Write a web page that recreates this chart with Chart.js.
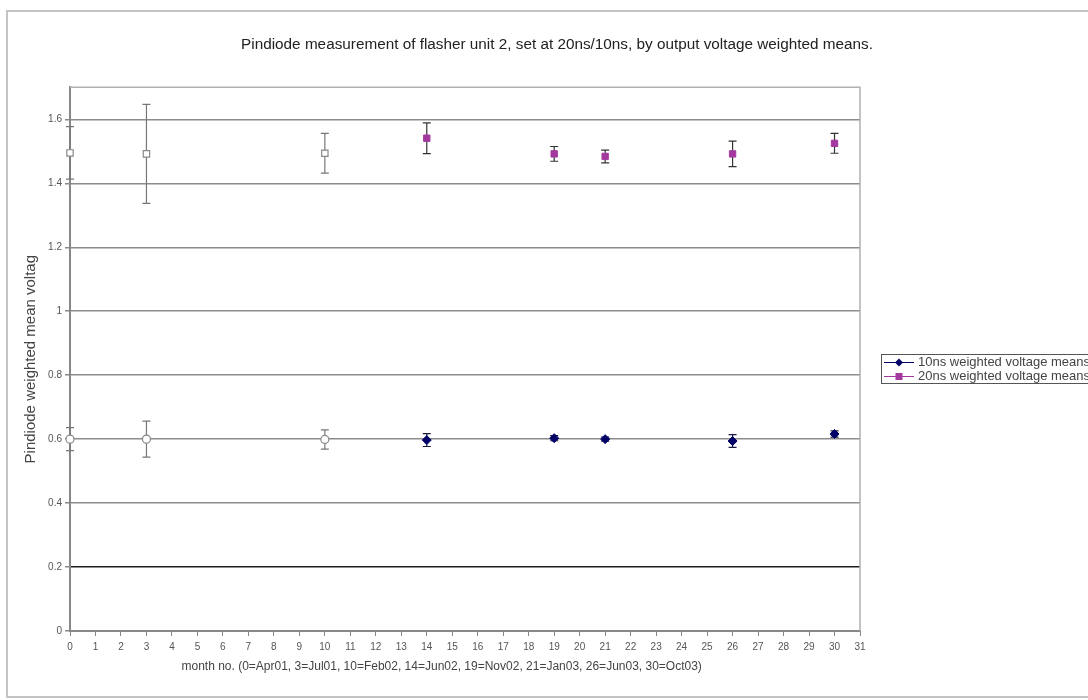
<!DOCTYPE html>
<html><head><meta charset="utf-8">
<script src="https://cdn.jsdelivr.net/npm/chart.js@4.4.1/dist/chart.umd.min.js"></script>
<style>
html,body{margin:0;padding:0;overflow:hidden;background:#fff;width:1088px;height:700px}
#wrap{position:absolute;left:0;top:0;width:1114px;height:700px}
</style>
</head><body><div id="wrap"><canvas id="c" width="1114" height="700"></canvas></div>
<script>
// ---- data ----
const chartTitle = 'Pindiode measurement of flasher unit 2, set at 20ns/10ns, by output voltage weighted means.';
const xTitle = 'month no. (0=Apr01, 3=Jul01, 10=Feb02, 14=Jun02, 19=Nov02, 21=Jan03, 26=Jun03, 30=Oct03)';
const yTitle = 'Pindiode weighted mean voltag';
const label10 = '10ns weighted voltage means';
const label20 = '20ns weighted voltage means';

const months10 = [14, 19, 21, 26, 30];
const means10  = [0.597, 0.603, 0.600, 0.594, 0.616];
const err10    = [0.020, 0.008, 0.006, 0.020, 0.010];

const months20 = [14, 19, 21, 26, 30];
const means20  = [1.541, 1.492, 1.484, 1.492, 1.525];
const err20    = [0.048, 0.023, 0.020, 0.040, 0.031];

const monthsEarly = [0, 3, 10];
const early10     = [0.600, 0.600, 0.599];
const early10Err  = [0.036, 0.056, 0.030];
const early20     = [1.495, 1.492, 1.494];
const early20Err  = [0.082, 0.155, 0.062];

const yMin = 0, yMax = 1.7, yStep = 0.2;
const xMin = 0, xMax = 31, xStep = 1;

// ---- build ----
const pts = (xs, ys) => xs.map((x, i) => ({x, y: ys[i]}));
const FONT = 'Liberation Sans, Arial, sans-serif';
const NAVY = '#000066', PURPLE = '#a3399f';

const datasets = [
  {label: label10, data: pts(months10, means10), errs: err10, errColor: '#1a1a40',
   pointStyle: 'rectRot', pointRadius: 4.5, backgroundColor: NAVY, borderColor: NAVY, borderWidth: 1, showLine: false, clip: false},
  {label: label20, data: pts(months20, means20), errs: err20, errColor: '#333333',
   pointStyle: 'rect', pointRadius: 4.5, backgroundColor: PURPLE, borderColor: PURPLE, borderWidth: 1, showLine: false, clip: false},
  {label: 'early10', data: pts(monthsEarly, early10), errs: early10Err, errColor: '#777',
   pointStyle: 'circle', pointRadius: 4, backgroundColor: '#fff', borderColor: '#888', borderWidth: 1.2, showLine: false, clip: false},
  {label: 'early20', data: pts(monthsEarly, early20), errs: early20Err, errColor: '#777',
   pointStyle: 'rect', pointRadius: 4.5, backgroundColor: '#fff', borderColor: '#888', borderWidth: 1.2, showLine: false, clip: false}
];

const extras = {
  id: 'extras',
  beforeDraw(chart) {
    const c = chart.ctx;
    c.save();
    c.fillStyle = '#fff';
    c.fillRect(0, 0, chart.width, chart.height);
    c.strokeStyle = '#c4c4c4';
    c.lineWidth = 2;
    c.strokeRect(7, 11, chart.width + 20, 686);
    c.restore();
  },
  beforeDatasetsDraw(chart) {
    const c = chart.ctx, a = chart.chartArea;
    const xs = chart.scales.x, ys = chart.scales.y;
    c.save();
    c.strokeStyle = '#b0b0b0';
    c.lineWidth = 1.5;
    c.beginPath();
    c.moveTo(a.left, a.top); c.lineTo(a.right, a.top); c.lineTo(a.right, a.bottom);
    c.stroke();
    chart.data.datasets.forEach(ds => {
      c.strokeStyle = ds.errColor;
      c.lineWidth = 1.2;
      ds.data.forEach((p, i) => {
        const e = ds.errs[i];
        const px = xs.getPixelForValue(p.x);
        const y1 = ys.getPixelForValue(p.y + e), y2 = ys.getPixelForValue(p.y - e);
        c.beginPath();
        c.moveTo(px, y1); c.lineTo(px, y2);
        c.moveTo(px - 4, y1); c.lineTo(px + 4, y1);
        c.moveTo(px - 4, y2); c.lineTo(px + 4, y2);
        c.stroke();
      });
    });
    c.restore();
  },
  afterDraw(chart) {
    const c = chart.ctx;
    const items = chart.data.datasets.slice(0, 2);
    const bx = 881, by = 354, rowH = 14;
    c.save();
    c.strokeStyle = '#555';
    c.lineWidth = 1;
    c.strokeRect(bx + 0.5, by + 0.5, 300, 29);
    items.forEach((ds, i) => {
      const y = by + 8.5 + i * rowH;
      c.strokeStyle = ds.borderColor;
      c.lineWidth = 1;
      c.beginPath(); c.moveTo(bx + 3, y); c.lineTo(bx + 33, y); c.stroke();
      c.fillStyle = ds.backgroundColor;
      c.beginPath();
      if (ds.pointStyle === 'rectRot') {
        c.moveTo(bx + 18, y - 4); c.lineTo(bx + 22, y); c.lineTo(bx + 18, y + 4); c.lineTo(bx + 14, y);
        c.closePath(); c.fill();
      } else {
        c.fillRect(bx + 14.5, y - 3.5, 7, 7);
      }
      c.fillStyle = '#444';
      c.font = '13px ' + FONT;
      c.textBaseline = 'middle';
      c.fillText(ds.label, bx + 37, y);
    });
    c.restore();
  }
};

new Chart(document.getElementById('c'), {
  type: 'scatter',
  data: {datasets},
  plugins: [extras],
  options: {
    responsive: false,
    animation: false,
    devicePixelRatio: 1,
    layout: {padding: 0},
    plugins: {
      legend: {display: false},
      tooltip: {enabled: false},
      title: {display: true, text: chartTitle, color: '#222',
              font: {family: FONT, size: 15.3, weight: 'normal'}, padding: {top: 36, bottom: 33}}
    },
    scales: {
      x: {
        type: 'linear', min: xMin, max: xMax,
        afterFit(s) { s.height = 69; },
        ticks: {stepSize: xStep, color: '#555', font: {family: FONT, size: 10}, padding: 5, maxRotation: 0, autoSkip: false},
        grid: {drawOnChartArea: false, drawTicks: true, tickLength: 5, color: '#888'},
        border: {color: '#888', width: 2},
        title: {display: true, text: xTitle + '              ', color: '#444', font: {family: FONT, size: 12}, padding: {top: 2, bottom: 26}}
      },
      y: {
        type: 'linear', min: yMin, max: yMax,
        afterBuildTicks(s) { s.ticks = s.ticks.filter(t => t.value <= 1.6 + 1e-9); },
        afterFit(s) { s.width = 70; },
        ticks: {stepSize: yStep, color: '#555', font: {family: FONT, size: 10}, padding: 3,
                callback: v => String(Math.round(v * 10) / 10)},
        grid: {
          color: ctx => (ctx.tick && Math.abs(ctx.tick.value - 0.2) < 1e-6) ? '#1e1e1e' : '#8c8c8c',
          lineWidth: 1.5, tickLength: 5, tickColor: '#888'
        },
        border: {color: '#888', width: 2},
        title: {display: true, text: yTitle, color: '#444', font: {family: FONT, size: 15}, padding: {top: 22, bottom: 4}}
      },
      yRight: {
        type: 'linear', position: 'right', display: true,
        afterFit(s) { s.width = 254; },
        ticks: {display: false},
        grid: {display: false, drawTicks: false},
        border: {display: false}
      }
    }
  }
});
</script>
</body></html>
